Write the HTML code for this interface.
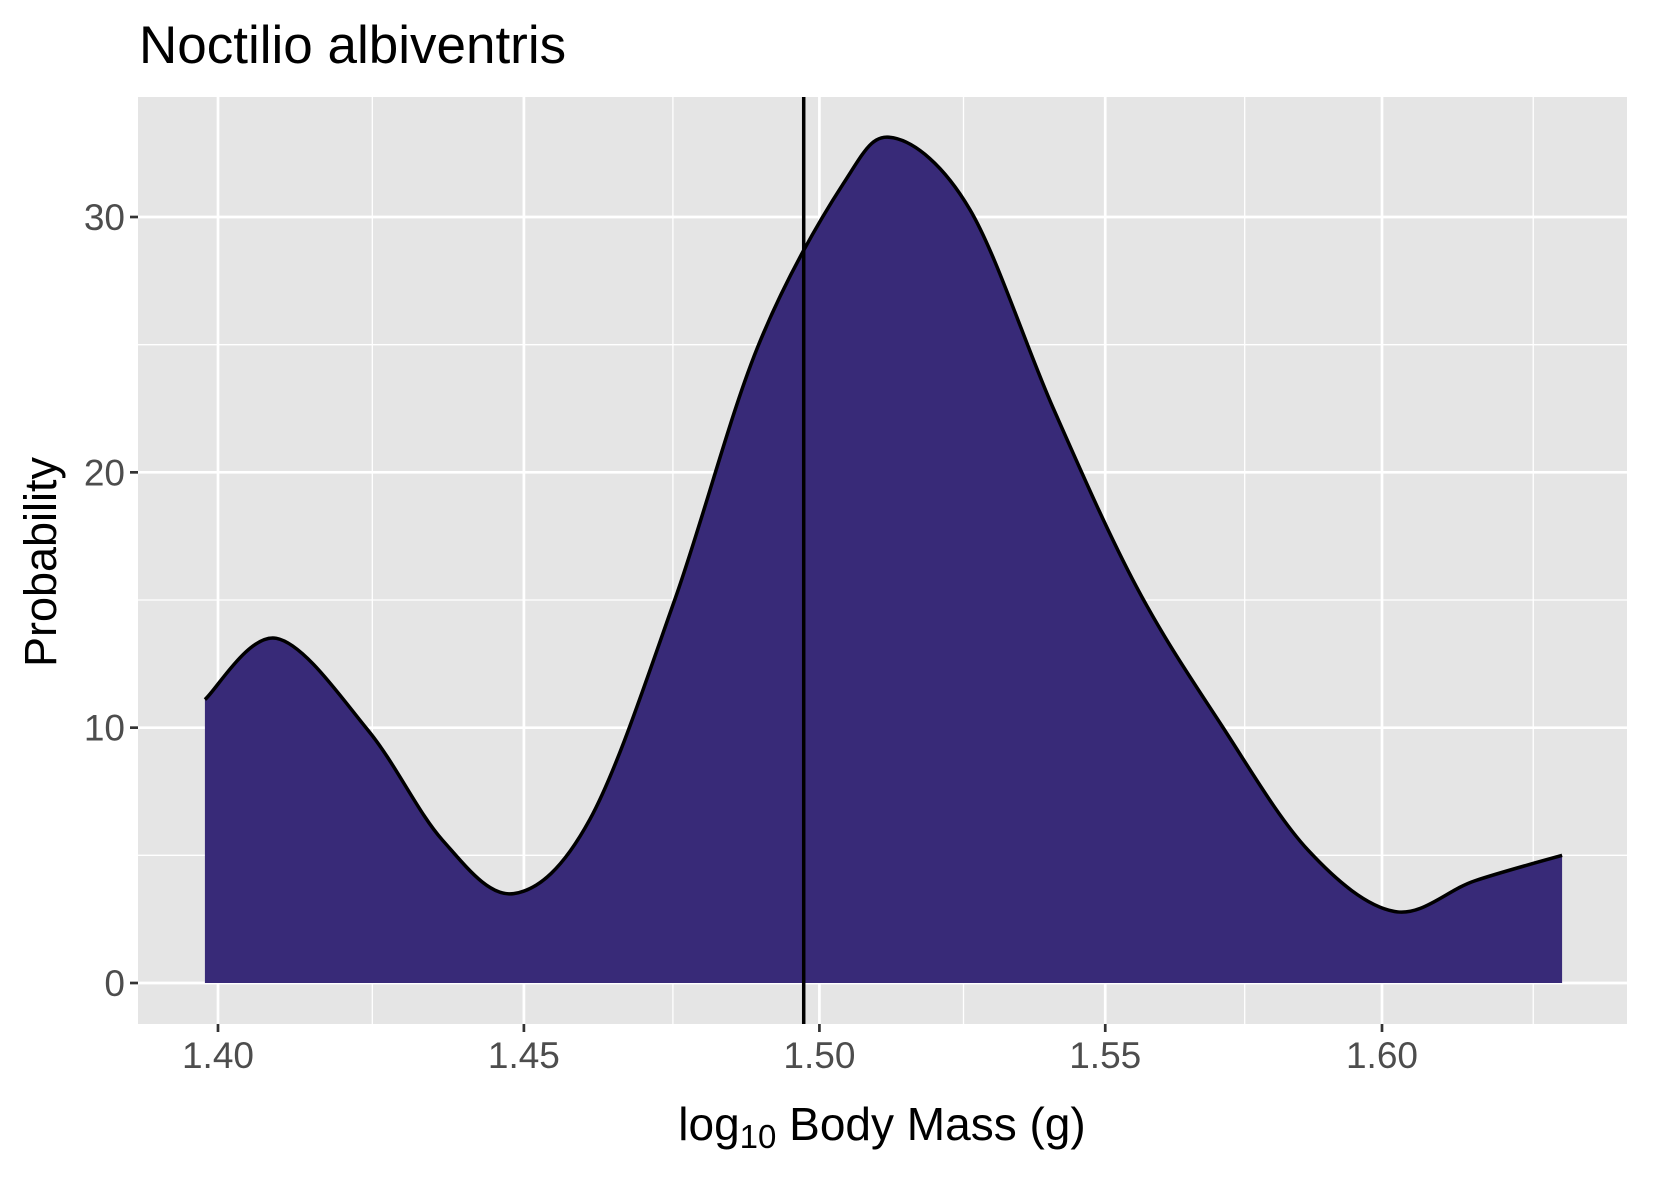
<!DOCTYPE html>
<html><head><meta charset="utf-8"><style>
html,body{margin:0;padding:0;background:#fff;}
svg{display:block;font-family:"Liberation Sans",Arial,sans-serif;}
</style></head><body>
<svg id="chart" width="1653" height="1181" viewBox="0 0 1653 1181" xmlns="http://www.w3.org/2000/svg">
<text x="139" y="63" font-size="53" fill="#000">Noctilio albiventris</text>
<rect x="138" y="97" width="1489" height="927" fill="#e5e5e5"/>
<g id="grid"></g>
<g id="marks"></g>
<g id="axes"></g>
<text x="882" y="1140" font-size="46" text-anchor="middle" fill="#000">log<tspan font-size="33" dy="8">10</tspan><tspan dy="-8"> Body Mass (g)</tspan></text>
<text transform="translate(56,562) rotate(-90)" font-size="45" text-anchor="middle" fill="#000">Probability</text>
</svg>
<script>
const xVals = [1.3979,1.4094,1.4243,1.4365,1.4483,1.461,1.4753,1.4894,1.5041,1.5128,1.5261,1.5408,1.5556,1.5708,1.5865,1.6023,1.6171,1.6334];
const yVals = [11.1,13.5,9.9,5.6,3.5,6.4,15.0,24.9,31.3,33.1,30.3,22.5,15.5,10.1,5.2,2.8,4.0,5.0];
const vlineX = [1.4973];
const xTicks = [1.40,1.45,1.50,1.55,1.60];
const xMinor = [1.425,1.475,1.525,1.575,1.628];
const yTicks = [0,10,20,30];
const yMinor = [5,15,25];

const NS="http://www.w3.org/2000/svg";
const L0=Math.log10(1.40), L1=Math.log10(1.60);
function sx(v){return 218+(Math.log10(v)-L0)*(1382-218)/(L1-L0);}
function sy(v){return 983-v*(983-217)/30;}
const PL=138,PR=1627,PT=97,PB=1024;
function mk(tag,attrs,parent){const e=document.createElementNS(NS,tag);for(const k in attrs)e.setAttribute(k,attrs[k]);parent.appendChild(e);return e;}
const grid=document.getElementById('grid'),marks=document.getElementById('marks'),axes=document.getElementById('axes');
yMinor.forEach(v=>{const e=mk('line',{x1:PL,x2:PR,y1:sy(v),y2:sy(v),stroke:'#fff','stroke-width':1.3},grid);

});
xMinor.forEach(v=>{const x=sx(v);if(x<PL||x>PR)return;const e=mk('line',{x1:x,x2:x,y1:PT,y2:PB,stroke:'#fff','stroke-width':1.3},grid);

});
yTicks.forEach(v=>{const e=mk('line',{x1:PL,x2:PR,y1:sy(v),y2:sy(v),stroke:'#fff','stroke-width':2.7},grid);


const t=mk('line',{x1:PL-8,x2:PL,y1:sy(v),y2:sy(v),stroke:'#333','stroke-width':2.7},axes);


const l=mk('text',{x:PL-13,y:sy(v)+13,'font-size':37,'text-anchor':'end',fill:'#4d4d4d'},axes);l.textContent=String(v);

});
xTicks.forEach(v=>{const x=sx(v);const e=mk('line',{x1:x,x2:x,y1:PT,y2:PB,stroke:'#fff','stroke-width':2.7},grid);


const t=mk('line',{x1:x,x2:x,y1:PB,y2:PB+8,stroke:'#333','stroke-width':2.7},axes);


const l=mk('text',{x:x,y:PB+44,'font-size':37,'text-anchor':'middle',fill:'#4d4d4d'},axes);l.textContent=v.toFixed(2);

});
const P=xVals.map((v,i)=>[sx(v),sy(yVals[i])]);
let d='M'+P[0][0]+','+P[0][1];
for(let i=0;i<P.length-1;i++){const p0=P[Math.max(0,i-1)],p1=P[i],p2=P[i+1],p3=P[Math.min(P.length-1,i+2)];
const c1=[p1[0]+(p2[0]-p0[0])/6,p1[1]+(p2[1]-p0[1])/6],c2=[p2[0]-(p3[0]-p1[0])/6,p2[1]-(p3[1]-p1[1])/6];
d+=' C'+c1[0]+','+c1[1]+' '+c2[0]+','+c2[1]+' '+p2[0]+','+p2[1];}
const area=mk('path',{d:d+' L'+P[P.length-1][0]+','+sy(0)+' L'+P[0][0]+','+sy(0)+' Z',fill:'#382a78'},marks);


const line=mk('path',{d:d,fill:'none',stroke:'#000','stroke-width':3.5,'stroke-linejoin':'round'},marks);


vlineX.forEach(v=>{const e=mk('line',{x1:sx(v),x2:sx(v),y1:PT,y2:PB,stroke:'#000','stroke-width':3.5},marks);

});
</script>
</body></html>
